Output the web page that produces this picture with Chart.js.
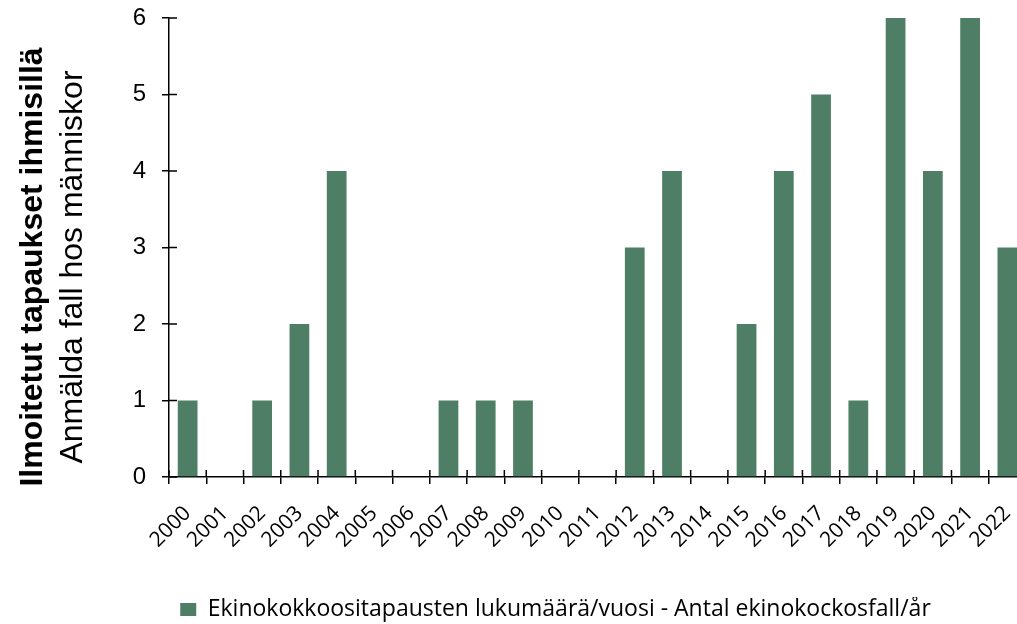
<!DOCTYPE html>
<html><head><meta charset="utf-8">
<script src="https://cdn.jsdelivr.net/npm/chart.js@4/dist/chart.umd.min.js"></script>
<style>html,body{margin:0;padding:0;overflow:hidden;background:#fff;width:1017px;height:624px}#wrap{width:1026px;height:624px}</style>
</head><body><div id="wrap"><canvas id="c" width="1026" height="624"></canvas></div>
<script>
const years = ['2000','2001','2002','2003','2004','2005','2006','2007','2008','2009','2010','2011','2012','2013','2014','2015','2016','2017','2018','2019','2020','2021','2022'];
const cases = [1,0,1,2,4,0,0,1,1,1,0,0,3,4,0,2,4,5,1,6,4,6,3];
const yTicks = [0,1,2,3,4,5,6];
const seriesLabel = 'Ekinokokkoositapausten lukumäärä/vuosi - Antal ekinokockosfall/år';
const yTitleLines = ['Ilmoitetut tapaukset ihmisillä','Anmälda fall hos människor'];

const barColor = '#4E7F66';
const labelFont = '"Open Sans", sans-serif';
const arialLike = '"Liberation Sans", Arial, sans-serif';

const crossTicks = {
  id: 'crossTicks',
  afterDraw(chart) {
    const ctx = chart.ctx, x = chart.scales.x, y = chart.scales.y;
    const a = chart.chartArea;
    ctx.save();
    ctx.strokeStyle = '#000'; ctx.lineWidth = 1.5;
    ctx.beginPath();
    yTicks.forEach(v => { const py = y.getPixelForValue(v); ctx.moveTo(a.left, py); ctx.lineTo(a.left + 8, py); });
    for (let i = 0; i <= years.length; i++) { const px = x.getPixelForValue(i - 0.5); ctx.moveTo(px, a.bottom); ctx.lineTo(px, a.bottom - 7); }
    ctx.stroke();
    const cy = 267;
    ctx.fillStyle = '#000';
    ctx.textAlign = 'center'; ctx.textBaseline = 'alphabetic';
    ctx.translate(42, cy); ctx.rotate(-Math.PI/2);
    ctx.font = 'bold 32px ' + arialLike;
    ctx.fillText(yTitleLines[0], 0, 0);
    ctx.setTransform(1,0,0,1,0,0);
    ctx.translate(82, cy); ctx.rotate(-Math.PI/2);
    ctx.font = '32px ' + arialLike;
    ctx.fillText(yTitleLines[1], 0, 0);
    ctx.restore();
  }
};

new Chart(document.getElementById('c'), {
  type: 'bar',
  data: { labels: years, datasets: [{ label: seriesLabel, data: cases, backgroundColor: barColor, borderWidth: 0, barPercentage: 0.53, categoryPercentage: 1 }] },
  options: {
    responsive: false, animation: false, devicePixelRatio: 1,
    layout: { padding: { left: 85, right: 0, top: 18, bottom: -7 } },
    plugins: {
      tooltip: { enabled: false },
      legend: { position: 'bottom', align: 'center',
        labels: { color: '#000', boxWidth: 16, boxHeight: 13, padding: 1, font: { family: labelFont, size: 23 } } }
    },
    scales: {
      x: {
        afterFit(s) { s.height = 120; s.paddingLeft = 0; s.paddingRight = 0; },
        border: { color: '#000', width: 1.5 },
        grid: { display: true, drawOnChartArea: false, color: '#000', lineWidth: 1.5, tickLength: 7, offset: true },
        ticks: { color: '#000', minRotation: 45, maxRotation: 45, autoSkip: false, padding: 17, font: { family: labelFont, size: 21 } }
      },
      y: {
        min: 0, max: 6,
        afterBuildTicks(s) { s.ticks = yTicks.map(v => ({ value: v })); },
        afterFit(s) { s.width = 84; s.paddingTop = 0; s.paddingBottom = 0; },
        border: { color: '#000', width: 1.5 },
        grid: { display: true, drawOnChartArea: false, color: '#000', lineWidth: 1.5, tickLength: 7 },
        ticks: { color: '#000', padding: 16, font: { family: arialLike, size: 24 } }
      }
    }
  },
  plugins: [crossTicks]
});
</script></body></html>
